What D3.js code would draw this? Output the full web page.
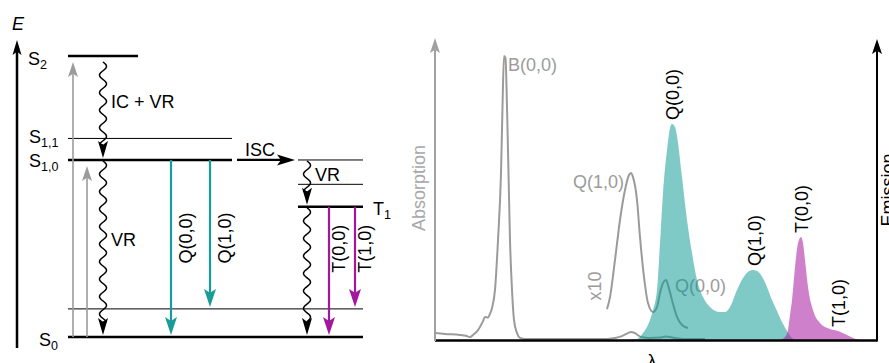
<!DOCTYPE html>
<html>
<head>
<meta charset="utf-8">
<script src="https://cdn.jsdelivr.net/npm/d3@7"></script>
<style>
  body { margin: 0; background: #fff; }
  svg { display: block; font-family: "Liberation Sans", Arial, Helvetica, sans-serif; }
</style>
</head>
<body>
<svg id="chart" width="889" height="363"></svg>
<script>
// ---- Jablonski diagram data (energies in eV above S0) ----
const levels = [
  { id: 'S0',  spin: 'S', v: 0, energy: 0.00, name: 'S', sub: '0' },
  { id: 'S0v', spin: 'S', v: 1, energy: 0.30 },
  { id: 'S10', spin: 'S', v: 0, energy: 1.89, name: 'S', sub: '1,0' },
  { id: 'S11', spin: 'S', v: 1, energy: 2.12, name: 'S', sub: '1,1' },
  { id: 'S2',  spin: 'S', v: 0, energy: 3.00, name: 'S', sub: '2' },
  { id: 'T1',  spin: 'T', v: 0, energy: 1.39, name: 'T', sub: '1' },
  { id: 'T1v', spin: 'T', v: 1, energy: 1.63 },
  { id: 'T1w', spin: 'T', v: 2, energy: 1.89 }
];

const transitions = [
  { from: 'S0',  to: 'S2',  kind: 'abs' },
  { from: 'S0',  to: 'S10', kind: 'abs' },
  { from: 'S2',  to: 'S10', kind: 'nr', label: 'IC + VR' },
  { from: 'S10', to: 'S0',  kind: 'nr', label: 'VR' },
  { from: 'S10', to: 'S0',  kind: 'fl', label: 'Q(0,0)' },
  { from: 'S10', to: 'S0v', kind: 'fl', label: 'Q(1,0)' },
  { from: 'T1w', to: 'T1',  kind: 'nr', label: 'VR' },
  { from: 'T1',  to: 'S0',  kind: 'nr' },
  { from: 'T1',  to: 'S0',  kind: 'ph', label: 'T(0,0)' },
  { from: 'T1',  to: 'S0v', kind: 'ph', label: 'T(1,0)' },
  { from: 'S10', to: 'T1w', kind: 'isc', label: 'ISC' }
];

// ---- spectra: [wavelength nm, intensity a.u.] ----
const absorption = [
  [350, 2.3], [360, 2.0], [375, 1.7], [381, 1.4], [385, 1.0], [388, 1.7], [393, 3.3],
  [398, 6.3], [400, 7.7], [403, 7.5], [405, 8.7], [407, 10.7], [410, 16.7], [413, 33.3],
  [416, 55.7], [417.5, 77.7], [419, 94.7], [420.5, 94], [422, 77.7], [423.5, 55.7],
  [425, 33.3], [427, 16.7], [429, 6.7], [432, 2.3], [435, 0.7], [440, 0.3], [475, 0.3],
  [515, 0.3], [530, 0.7], [537, 1.3], [543, 2.3], [546, 2.7], [550, 2.3], [556, 1.0],
  [565, 0.7], [575, 0.8], [581, 1.2], [587, 0.8], [600, 0.3], [620, 0.3]
];
const absorptionX10 = [
  [522, 10.3], [525, 14.3], [530, 26.7], [535, 40], [540, 50], [544, 55], [546, 55.7],
  [548, 54.3], [552, 46.7], [555, 34.3], [559, 21], [563, 12.3], [568, 9.3], [572, 11],
  [575, 15.7], [578, 19], [581, 20], [583, 18.3], [587, 13.3], [592, 7.7], [597, 5], [603, 4]
];
const fluorescence = [
  [540, 0], [552, 0.3], [558, 2.3], [565, 6.7], [568, 10], [572, 16.7], [575, 32.3],
  [578, 49], [582, 63.3], [585, 70.7], [587, 72], [590, 71], [593, 65.7], [597, 54.3],
  [602, 40], [607, 29], [612, 20], [618, 14.3], [625, 11], [635, 9.3], [640, 9.3],
  [645, 11], [652, 16.7], [658, 20.7], [663, 22.7], [668, 23.3], [672, 23], [676, 21.7],
  [682, 17.7], [687, 13.3], [692, 9.7], [697, 6], [702, 3], [707, 0.7], [712, 0]
];
const phosphorescence = [
  [695, 0], [700, 1], [703, 3.3], [705, 8.3], [707, 13.3], [710, 24.3], [713, 32.3],
  [716, 34.3], [718, 32.3], [720, 26.7], [723, 17.7], [728, 10], [735, 5.7], [745, 3.7],
  [753, 3], [760, 2], [768, 0.7], [775, 0]
];

const absLabels = ['B(0,0)', 'Q(1,0)', 'Q(0,0)'];
const absLabelAt = [[419, 94.7], [546, 55.7], [581, 20]];
const emLabels = ['Q(0,0)', 'Q(1,0)', 'T(0,0)', 'T(1,0)'];
const emLabelAt = [[587, 72], [669, 23.3], [716, 34.3], [753, 3]];

// ---- styles ----
const GREY = '#9b9b9b', TEAL = '#179c98', PURPLE = '#a2179e';
const TEAL_FILL = '#099792', PURPLE_FILL = '#a8189f';
const FS = 18;

const svg = d3.select('#chart');

function head(g, x, y, dir, len, wid, color) {
  const [ux, uy] = dir, px = -uy, py = ux;
  const bx = x - ux * len, by = y - uy * len;
  const nx = x - ux * len * 0.78, ny = y - uy * len * 0.78;
  const pts = [[x, y], [bx + px * wid / 2, by + py * wid / 2], [nx, ny], [bx - px * wid / 2, by - py * wid / 2]];
  g.append('path').attr('d', 'M' + pts.join('L') + 'Z').attr('fill', color);
}

// sine squiggle for non-radiative decay
function wavy(x, y0, y1) {
  const period = 17.5, amp = 3.5;
  const pts = d3.range(y0, y1, 0.5).map(y => [x + amp * Math.sin((y - y0) / period * 2 * Math.PI), y]);
  pts.push([x, y1]);
  return d3.line().curve(d3.curveBasis)(pts);
}

// ================= left: energy diagram =================
const yE = d3.scaleLinear().domain([0, 3]).range([337, 56]);
const lev = Object.fromEntries(levels.map(d => [d.id, d]));
const Y = id => yE(lev[id].energy);

const levelSpan = {
  S0: [68, 363], S0v: [68, 363], S10: [68, 232], S11: [68, 232], S2: [68, 138],
  T1: [298, 363], T1v: [298, 363], T1w: [298, 363]
};
const levelLabelPos = { S0: [39, 9], S10: [29, 7], S11: [29, 5], S2: [28, 9], T1: [373, 8] };
const laneX = [73, 87, 103, 103, 171, 210, 307, 307, 329, 355, [237, 295]];

const gL = svg.append('g');

// energy axis
const eAxisX = 17;
gL.append('line').attr('x1', eAxisX).attr('x2', eAxisX)
  .attr('y1', yE.range()[0] + 11).attr('y2', 52)
  .attr('stroke', '#000').attr('stroke-width', 2.5);
head(gL, eAxisX, 40, [0, -1], 15, 9, '#000');
gL.append('text').attr('x', 12).attr('y', 30).attr('font-size', FS)
  .attr('font-style', 'italic').text('E');

// levels
gL.selectAll('line.level').data(levels).join('line')
  .attr('class', 'level')
  .attr('x1', d => levelSpan[d.id][0]).attr('x2', d => levelSpan[d.id][1])
  .attr('y1', d => Y(d.id)).attr('y2', d => Y(d.id))
  .attr('stroke', '#000')
  .attr('stroke-width', d => d.v === 0 ? 2.5 : 1);

const lbl = gL.selectAll('text.level').data(levels.filter(d => d.name)).join('text')
  .attr('class', 'level')
  .attr('x', d => levelLabelPos[d.id][0])
  .attr('y', d => Y(d.id) + levelLabelPos[d.id][1])
  .attr('font-size', FS);
lbl.append('tspan').text(d => d.name);
lbl.append('tspan').attr('font-size', 12.5).attr('dy', 4).text(d => d.sub);

// transitions
transitions.forEach((t, i) => {
  const y0 = Y(t.from), y1 = Y(t.to);
  const lx = laneX[i];
  if (t.kind === 'abs') {
    const tip = y1 + 6;
    gL.append('line').attr('x1', lx).attr('x2', lx).attr('y1', y0).attr('y2', tip + 12)
      .attr('stroke', GREY).attr('stroke-width', 1.6);
    head(gL, lx, tip, [0, -1], 15, 10, GREY);
  } else if (t.kind === 'nr') {
    const start = y0 + (t.from === 'S2' ? 6 : 1), tip = y1 - 2;
    gL.append('path').attr('d', wavy(lx, start, tip - 13))
      .attr('fill', 'none').attr('stroke', '#000').attr('stroke-width', 1.5);
    head(gL, lx, tip, [0, 1], 17, 10, '#000');
    if (t.label) {
      gL.append('text').attr('x', lx + 8).attr('y', (start + tip) / 2 - 8)
        .attr('dy', '0.35em').attr('font-size', FS).text(t.label);
    }
  } else if (t.kind === 'fl' || t.kind === 'ph') {
    const col = t.kind === 'fl' ? TEAL : PURPLE;
    const tip = y1 - 2;
    gL.append('line').attr('x1', lx).attr('x2', lx).attr('y1', y0).attr('y2', tip - 14)
      .attr('stroke', col).attr('stroke-width', 2.2);
    head(gL, lx, tip, [0, 1], 18, 12, col);
    const off = t.kind === 'fl' ? [14.5, 78] : [10, 42];
    gL.append('text')
      .attr('transform', `translate(${lx + off[0]},${y0 + off[1]}) rotate(-90)`)
      .attr('text-anchor', 'middle').attr('dy', '0.35em')
      .attr('font-size', FS).text(t.label);
  } else if (t.kind === 'isc') {
    gL.append('line').attr('x1', lx[0]).attr('x2', lx[1] - 14).attr('y1', y0).attr('y2', y0)
      .attr('stroke', '#000').attr('stroke-width', 2.2);
    head(gL, lx[1], y0, [1, 0], 18, 11, '#000');
    gL.append('text').attr('x', lx[0] + 8).attr('y', y0 - 4)
      .attr('font-size', FS).text(t.label);
  }
});

// ================= right: spectra =================
const xS = d3.scaleLinear().domain([350, 792]).range([435, 877]);
const yS = d3.scaleLinear().domain([0, 100]).range([340, 40]);
const gR = svg.append('g');

const line = d3.line().x(d => xS(d[0])).y(d => yS(d[1])).curve(d3.curveMonotoneX);
const area = d3.area().x(d => xS(d[0])).y0(yS(0)).y1(d => yS(d[1])).curve(d3.curveMonotoneX);

gR.append('path').attr('d', line(absorption))
  .attr('fill', 'none').attr('stroke', GREY).attr('stroke-width', 2);
gR.append('path').attr('d', line(absorptionX10))
  .attr('fill', 'none').attr('stroke', GREY).attr('stroke-width', 2);

// absorption labels
const absOff = [[4, 15, 'start'], [-7, 15, 'end'], [9, 12, 'start']];
absLabels.forEach((s, i) => {
  gR.append('text')
    .attr('x', xS(absLabelAt[i][0]) + absOff[i][0])
    .attr('y', yS(absLabelAt[i][1]) + absOff[i][1])
    .attr('text-anchor', absOff[i][2])
    .attr('font-size', FS).attr('fill', GREY).text(s);
});
gR.append('text')
  .attr('transform', `translate(${xS(absorptionX10[0][0]) - 12},${yS(absorptionX10[0][1]) - 23}) rotate(-90)`)
  .attr('text-anchor', 'middle').attr('dy', '0.35em')
  .attr('font-size', FS).attr('fill', GREY).text('x10');

// emission
gR.append('path').attr('d', area(fluorescence))
  .attr('fill', TEAL_FILL).attr('fill-opacity', 0.52);
gR.append('path').attr('d', area(phosphorescence))
  .attr('fill', PURPLE_FILL).attr('fill-opacity', 0.55);

emLabels.forEach((s, i) => {
  gR.append('text')
    .attr('transform', `translate(${xS(emLabelAt[i][0]) + 1},${yS(emLabelAt[i][1]) - 4}) rotate(-90)`)
    .attr('dy', '0.35em').attr('font-size', FS).text(s);
});

// axes
const [x0, x1] = xS.range();
gR.append('line').attr('x1', x0).attr('x2', x1).attr('y1', yS(0) + 0.5).attr('y2', yS(0) + 0.5)
  .attr('stroke', '#000').attr('stroke-width', 2.5);
gR.append('line').attr('x1', x0).attr('x2', x0).attr('y1', yS(0) + 1).attr('y2', 50)
  .attr('stroke', '#a0a0a0').attr('stroke-width', 2);
head(gR, x0, 38, [0, -1], 15, 10, '#a0a0a0');
gR.append('line').attr('x1', x1).attr('x2', x1).attr('y1', yS(0) + 1.5).attr('y2', 51)
  .attr('stroke', '#000').attr('stroke-width', 2);
head(gR, x1, 39, [0, -1], 15, 10, '#000');

gR.append('text').attr('transform', `translate(${x0 - 16},188) rotate(-90)`)
  .attr('text-anchor', 'middle').attr('dy', '0.35em')
  .attr('font-size', FS).attr('fill', '#a8a8a8').text('Absorption');
gR.append('text').attr('transform', `translate(${x1 + 11},190) rotate(-90)`)
  .attr('text-anchor', 'middle').attr('dy', '0.35em')
  .attr('font-size', FS).text('Emission');
gR.append('text').attr('x', xS(567)).attr('y', 367)
  .attr('text-anchor', 'middle').attr('font-size', FS).text('λ');
</script>
</body>
</html>
